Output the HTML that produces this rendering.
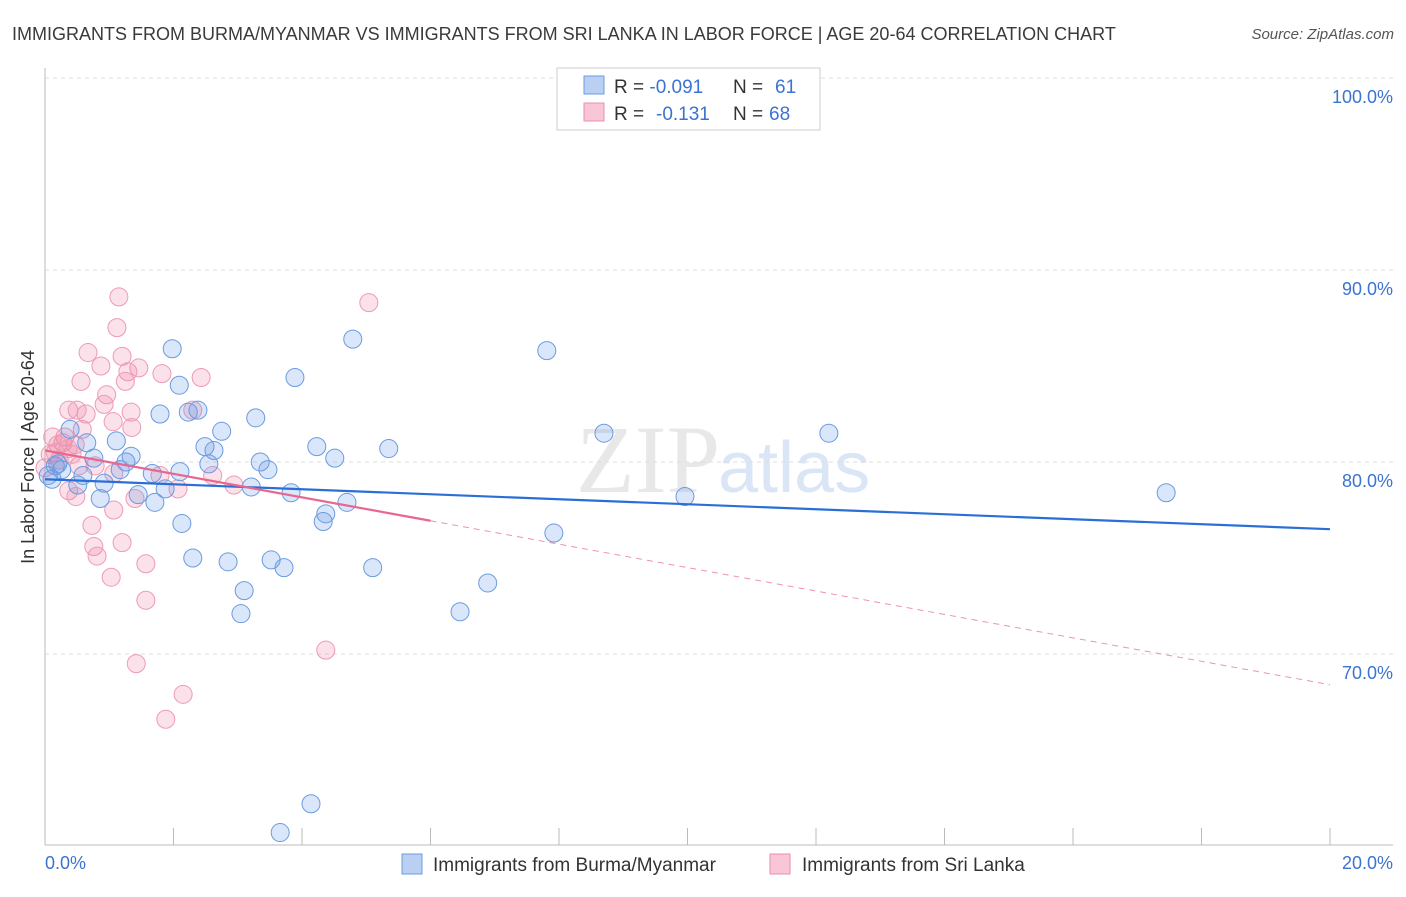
<!DOCTYPE html>
<html><head><meta charset="utf-8"><style>
body{margin:0;background:#fff;font-family:"Liberation Sans",sans-serif}
</style></head><body>
<svg id="chart" width="1406" height="892" xmlns="http://www.w3.org/2000/svg" font-family="Liberation Sans, sans-serif">
<text x="12" y="40" font-size="18" fill="#3a3a3a">IMMIGRANTS FROM BURMA/MYANMAR VS IMMIGRANTS FROM SRI LANKA IN LABOR FORCE | AGE 20-64 CORRELATION CHART</text>
<text x="1394" y="39" font-size="15" fill="#555" text-anchor="end" font-style="italic">Source: ZipAtlas.com</text>
<text x="720" y="492" font-size="96" fill="#e8e8e8" text-anchor="end" font-family="Liberation Serif, serif">ZIP</text>
<text x="718" y="492" font-size="72" fill="#dae6f5">atlas</text>
<g id="grid"></g><g id="axes"></g><g id="pts"></g><g id="trend"></g>
<text transform="translate(34,457) rotate(-90)" font-size="18" fill="#333" text-anchor="middle">In Labor Force | Age 20-64</text>
<text x="45" y="869" font-size="18" fill="#3b73d1">0.0%</text>
<text x="1393" y="869" font-size="18" fill="#3b73d1" text-anchor="end">20.0%</text>
<g>
<rect x="557" y="68" width="263" height="62" fill="#fff" stroke="#ccc"/>
<rect x="584" y="76" width="20" height="18" fill="#b9d0f3" stroke="#6b9be0"/>
<rect x="584" y="103" width="20" height="18" fill="#f8c6d5" stroke="#ea8fae"/>
<text x="614" y="93" font-size="19" fill="#333">R = <tspan fill="#3b73d1">-0.091</tspan><tspan x="733">N = </tspan><tspan fill="#3b73d1" x="775">61</tspan></text>
<text x="614" y="120" font-size="19" fill="#333">R = <tspan fill="#3b73d1" x="656">-0.131</tspan><tspan x="733">N = </tspan><tspan fill="#3b73d1" x="769">68</tspan></text>
</g>
<g>
<rect x="402" y="854" width="20" height="20" fill="#b9d0f3" stroke="#6b9be0"/>
<text x="433" y="871" font-size="19" fill="#333">Immigrants from Burma/Myanmar</text>
<rect x="770" y="854" width="20" height="20" fill="#f8c6d5" stroke="#ea8fae"/>
<text x="802" y="871" font-size="19" fill="#333">Immigrants from Sri Lanka</text>
</g>
</svg>
<script>
const yTicks=[100,90,80,70];
const xTicks=[0,2,4,6,8,10,12,14,16,18,20];
const blueX=[1.98,4.79,7.81,3.89,2.09,1.79,2.23,2.38,3.28,2.75,8.70,12.20,0.65,1.11,2.49,2.63,4.23,5.35,0.39,0.76,1.34,1.26,3.35,4.51,2.55,3.47,1.67,2.10,1.17,0.59,0.16,0.11,0.92,1.45,1.87,3.21,3.83,0.86,1.71,4.70,9.96,17.45,4.37,4.33,2.13,7.92,2.30,3.52,2.85,3.72,5.10,6.89,3.10,6.46,3.05,4.14,3.66,0.51,0.26,0.05,0.20];
const blueY=[85.9,86.4,85.8,84.4,84.0,82.5,82.6,82.7,82.3,81.6,81.5,81.5,81.0,81.1,80.8,80.6,80.8,80.7,81.7,80.2,80.3,80.0,80.0,80.2,79.9,79.6,79.4,79.5,79.6,79.3,79.8,79.1,78.9,78.3,78.6,78.7,78.4,78.1,77.9,77.9,78.2,78.4,77.3,76.9,76.8,76.3,75.0,74.9,74.8,74.5,74.5,73.7,73.3,72.2,72.1,62.2,60.7,78.8,79.6,79.3,79.9];
const pinkX=[1.15,5.04,1.12,0.67,1.20,0.87,1.46,1.29,1.82,2.43,1.25,0.56,0.96,0.92,1.34,0.37,0.64,0.50,2.30,1.35,1.06,0.31,0.58,0.28,0.20,0.47,0.36,0.12,0.08,0.22,0.78,0.53,0.00,0.37,0.48,1.07,1.79,2.07,2.61,2.94,1.40,1.07,0.73,1.20,0.76,0.81,1.03,1.57,1.57,1.42,2.15,1.88,4.37,0.16,0.42];
const pinkY=[88.6,88.3,87.0,85.7,85.5,85.0,84.9,84.7,84.6,84.4,84.2,84.2,83.5,83.0,82.6,82.7,82.5,82.7,82.7,81.8,82.1,81.3,81.7,81.0,80.9,80.9,80.7,81.3,80.4,80.1,79.8,79.8,79.7,78.5,78.2,79.4,79.3,78.6,79.3,78.8,78.1,77.5,76.7,75.8,75.6,75.1,74.0,74.7,72.8,69.5,67.9,66.6,70.2,80.5,80.4];
const blueTrend=[79.1,76.5];
const pinkTrend=[80.6,68.4];
const pinkSolidEnd=6.0;
const NS="http://www.w3.org/2000/svg";
const sx=v=>45+v*64.25, sy=v=>78+(100-v)*19.2;
function mk(tag,attrs,parent){const e=document.createElementNS(NS,tag);for(const k in attrs)e.setAttribute(k,attrs[k]);parent.appendChild(e);return e;}
const grid=document.getElementById('grid'),axes=document.getElementById('axes'),pts=document.getElementById('pts'),tr=document.getElementById('trend');
yTicks.forEach(t=>{
 const l=mk('line',{x1:45,x2:1393,y1:sy(t),y2:sy(t),stroke:'#ddd','stroke-dasharray':'4,4'},grid);
 
 
 const tx=mk('text',{x:1393,y:sy(t)+25,'font-size':18,fill:'#3b73d1','text-anchor':'end'},grid);
 tx.textContent=t.toFixed(1)+'%';
 
 
});
const ax=mk('line',{x1:45,x2:45,y1:68,y2:845,stroke:'#bbb'},axes);


const bx=mk('line',{x1:45,x2:1393,y1:845,y2:845,stroke:'#bbb'},axes);


xTicks.forEach(t=>{
 const l=mk('line',{x1:sx(t),x2:sx(t),y1:828,y2:845,stroke:'#bbb'},axes);
 
 
});
function dots(X,Y,fill,stroke,name){X.forEach((x,i)=>{
 const c=mk('circle',{cx:sx(x),cy:sy(Y[i]),r:9,fill:fill,stroke:stroke,'stroke-width':1},pts);
 
 
});}
dots(pinkX,pinkY,'rgba(240,130,165,0.24)','#ee9ab6','sri-lanka-point');
dots(blueX,blueY,'rgba(100,150,230,0.24)','#6b9be0','burma-point');
const lb=mk('line',{x1:sx(0),y1:sy(blueTrend[0]),x2:sx(20),y2:sy(blueTrend[1]),stroke:'#2a6fd6','stroke-width':2.2},tr);


const pAt=x=>pinkTrend[0]+(pinkTrend[1]-pinkTrend[0])*x/20;
const lp=mk('line',{x1:sx(0),y1:sy(pinkTrend[0]),x2:sx(pinkSolidEnd),y2:sy(pAt(pinkSolidEnd)),stroke:'#e8668f','stroke-width':2.2},tr);


const lpd=mk('line',{x1:sx(pinkSolidEnd),y1:sy(pAt(pinkSolidEnd)),x2:sx(20),y2:sy(pinkTrend[1]),stroke:'#eb93b0','stroke-width':1,'stroke-dasharray':'6,5'},tr);


</script>
</body></html>
